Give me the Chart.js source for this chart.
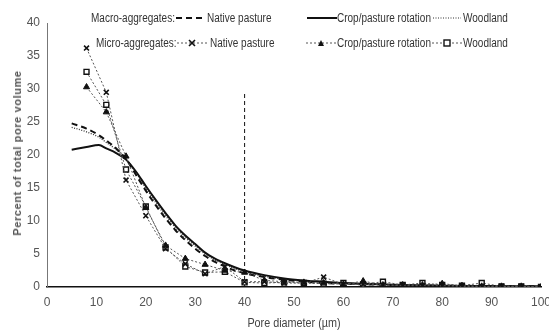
<!DOCTYPE html>
<html lang="en">
<head>
    <meta charset="UTF-8">
    <title>Pore size distribution</title>
    <script src="https://cdn.jsdelivr.net/npm/chart.js"></script>
    <style>
        body { margin: 0; background: #fff; }
        .wrap { position: relative; width: 549px; height: 331px; }
        .lg {
            position: absolute;
            font-family: "Liberation Sans", Arial, sans-serif;
            font-size: 12.5px;
            color: #333;
            white-space: nowrap;
            line-height: 14px;
            transform: scaleX(0.8);
            transform-origin: left center;
        }
        .ytitle {
            position: absolute; left: 17px; top: 153px;
            transform: translate(-50%, -50%) rotate(-90deg);
            font-family: "Liberation Sans", Arial, sans-serif;
            font-size: 11px; font-weight: bold; color: #555; white-space: nowrap;
            letter-spacing: 0.6px;
        }
        .xtitle {
            position: absolute; left: 294px; top: 316px;
            transform: translateX(-50%) scaleX(0.9);
            font-family: "Liberation Sans", Arial, sans-serif;
            font-size: 12px; color: #444; white-space: nowrap;
        }
    </style>
</head>
<body>
<div class="wrap">
    <canvas id="poreChart" width="549" height="331"></canvas>

    <!-- legend -->
    <div class="lg" style="left:91px;top:11px;">Macro-aggregates:</div>
    <svg style="position:absolute;left:176px;top:12px" width="30" height="12"><line x1="0" y1="6" x2="30" y2="6" stroke="#111" stroke-width="2" stroke-dasharray="6,4"/></svg>
    <div class="lg" style="left:207px;top:11px;">Native pasture</div>
    <svg style="position:absolute;left:307px;top:12px" width="30" height="12"><line x1="0" y1="6" x2="30" y2="6" stroke="#111" stroke-width="2"/></svg>
    <div class="lg" style="left:337px;top:11px;">Crop/pasture rotation</div>
    <svg style="position:absolute;left:433px;top:12px" width="28" height="12"><line x1="0" y1="6" x2="28" y2="6" stroke="#333" stroke-width="1.2" stroke-dasharray="1,1.5"/></svg>
    <div class="lg" style="left:463px;top:11px;">Woodland</div>

    <div class="lg" style="left:96px;top:36px;">Micro-aggregates:</div>
    <svg style="position:absolute;left:177px;top:37px" width="30" height="12"><line x1="0" y1="6" x2="30" y2="6" stroke="#555" stroke-width="1" stroke-dasharray="2,2"/><path d="M12 3 L18 9 M18 3 L12 9" stroke="#111" stroke-width="1.6"/></svg>
    <div class="lg" style="left:210px;top:36px;">Native pasture</div>
    <svg style="position:absolute;left:306px;top:37px" width="30" height="12"><line x1="0" y1="6" x2="30" y2="6" stroke="#555" stroke-width="1" stroke-dasharray="2,2"/><path d="M15 3 L18 9 L12 9 Z" fill="#111"/></svg>
    <div class="lg" style="left:337px;top:36px;">Crop/pasture rotation</div>
    <svg style="position:absolute;left:432px;top:37px" width="30" height="12"><line x1="0" y1="6" x2="30" y2="6" stroke="#555" stroke-width="1" stroke-dasharray="2,2"/><rect x="12" y="3" width="6" height="6" fill="#fff" stroke="#111" stroke-width="1.4"/></svg>
    <div class="lg" style="left:463px;top:36px;">Woodland</div>

    <div class="ytitle">Percent of total pore volume</div>
    <div class="xtitle">Pore diameter (µm)</div>
</div>

<script>
    // macro-aggregates (fitted curves)
    const macroX = [5, 8, 10.5, 12, 14, 16, 18, 20, 22, 24, 26, 28, 30, 32, 34, 36, 38, 40, 44, 48, 52, 56, 60, 70, 80, 90, 100];
    const macroNative = [24.8, 24.0, 23.0, 22.2, 21.0, 19.4, 17.0, 14.6, 12.4, 10.4, 8.6, 7.1, 5.8, 4.7, 3.8, 3.1, 2.5, 2.1, 1.5, 1.1, 0.8, 0.6, 0.5, 0.3, 0.2, 0.15, 0.1];
    const macroCrop = [20.8, 21.2, 21.5, 21.0, 20.3, 19.3, 17.5, 15.3, 13.2, 11.2, 9.3, 7.8, 6.5, 5.2, 4.3, 3.6, 3.0, 2.5, 1.8, 1.3, 1.0, 0.8, 0.6, 0.35, 0.2, 0.15, 0.1];
    const macroWood = [24.2, 23.5, 22.7, 21.9, 20.8, 19.3, 17.3, 15.0, 12.8, 10.8, 9.0, 7.5, 6.2, 5.0, 4.1, 3.4, 2.8, 2.3, 1.6, 1.2, 0.9, 0.7, 0.5, 0.3, 0.2, 0.15, 0.1];

    // micro-aggregates (measured points)
    const microX = [8, 12, 16, 20, 24, 28, 32, 36, 40, 44, 48, 52, 56, 60, 64, 68, 72, 76, 80, 84, 88, 92, 96, 100];
    const microNative = [36.2, 29.5, 16.2, 10.8, 5.8, 3.5, 2.0, 3.1, 0.8, 0.8, 0.6, 0.6, 1.5, 0.4, 0.4, 0.3, 0.2, 0.2, 0.2, 0.1, 0.1, 0.1, 0.1, 0.0];
    const microCrop = [30.3, 26.5, 19.8, 12.0, 6.3, 4.3, 3.4, 2.5, 2.2, 1.0, 0.8, 0.7, 0.6, 0.4, 0.9, 0.3, 0.3, 0.3, 0.5, 0.2, 0.1, 0.1, 0.1, 0.0];
    const microWood = [32.6, 27.6, 17.8, 12.2, 6.0, 3.1, 2.2, 2.3, 0.7, 0.6, 0.7, 0.6, 0.5, 0.6, 0.4, 0.8, 0.3, 0.6, 0.3, 0.2, 0.6, 0.1, 0.1, 0.0];

    // vertical reference line at 40 um
    const refX = [40, 40];
    const refY = [0, 29.5];

    const xTicks = [0, 10, 20, 30, 40, 50, 60, 70, 80, 90, 100];
    const yTicks = [0, 5, 10, 15, 20, 25, 30, 35, 40];

    const pts = (xs, ys) => xs.map((x, i) => ({ x: x, y: ys[i] }));
    const tickFont = { family: '"Liberation Sans", Arial, sans-serif', size: 12 };

    const microStyle = {
        borderColor: '#555', borderWidth: 1, borderDash: [2, 2],
        pointRadius: 3.5, pointBorderColor: '#111', tension: 0
    };

    new Chart(document.getElementById('poreChart'), {
        type: 'scatter',
        data: {
            datasets: [
                Object.assign({ label: 'Micro native', data: pts(microX, microNative), pointStyle: 'crossRot', pointBorderWidth: 1.6, pointBackgroundColor: '#111' }, microStyle),
                Object.assign({ label: 'Micro crop', data: pts(microX, microCrop), pointStyle: 'triangle', pointBorderWidth: 1, pointBackgroundColor: '#111' }, microStyle),
                Object.assign({ label: 'Micro woodland', data: pts(microX, microWood), pointStyle: 'rect', pointBorderWidth: 1.4, pointBackgroundColor: '#fff' }, microStyle),
                { label: 'Macro native', data: pts(macroX, macroNative), borderColor: '#111', borderWidth: 2, borderDash: [6, 4], pointRadius: 0, cubicInterpolationMode: 'monotone' },
                { label: 'Macro crop', data: pts(macroX, macroCrop), borderColor: '#111', borderWidth: 2, pointRadius: 0, cubicInterpolationMode: 'monotone' },
                { label: 'Macro woodland', data: pts(macroX, macroWood), borderColor: '#333', borderWidth: 1.3, borderDash: [1, 1.5], pointRadius: 0, cubicInterpolationMode: 'monotone' },
                { label: '40 um', data: pts(refX, refY), borderColor: '#111', borderWidth: 1, borderDash: [4, 3], pointRadius: 0 }
            ].map(d => Object.assign({ showLine: true, fill: false }, d))
        },
        options: {
            responsive: false,
            animation: false,
            layout: { padding: { top: 23, right: 8, left: 0, bottom: 0 } },
            plugins: { legend: { display: false }, tooltip: { enabled: false } },
            scales: {
                x: {
                    type: 'linear', min: 0, max: 100,
                    afterBuildTicks: s => { s.ticks = xTicks.map(v => ({ value: v })); },
                    afterFit: s => { s.height = 44; s.paddingRight = 0; s.paddingLeft = 0; },
                    grid: { display: false, drawTicks: true, tickLength: 4, tickColor: '#222' },
                    border: { color: '#111', width: 1.5 },
                    ticks: { color: '#555', font: tickFont, padding: 4, maxRotation: 0 }
                },
                y: {
                    type: 'linear', min: 0, max: 40,
                    afterBuildTicks: s => { s.ticks = yTicks.map(v => ({ value: v })); },
                    afterFit: s => { s.width = 47; },
                    grid: { display: false, drawTicks: true, tickLength: 4, tickColor: '#555' },
                    border: { color: '#777', width: 1 },
                    ticks: { color: '#555', font: tickFont, padding: 3 }
                }
            }
        }
    });
</script>
</body>
</html>
